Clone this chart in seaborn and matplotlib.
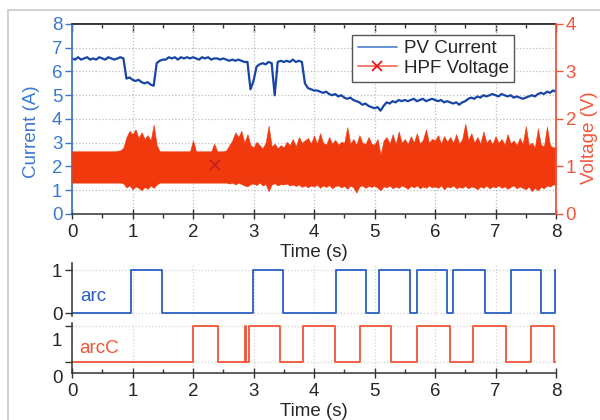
import numpy as np
import matplotlib
matplotlib.use("Agg")
import matplotlib.pyplot as plt
import seaborn as sns
from matplotlib.patches import Rectangle
from matplotlib.lines import Line2D
from matplotlib.ticker import MultipleLocator
from matplotlib.transforms import ScaledTranslation

# sample times (s), one reading every 0.05 s
time_s = np.linspace(0, 8, 161)

# PV current (A)
current_a = [
    6.55, 6.50, 6.60, 6.50, 6.55, 6.60, 6.50, 6.55, 6.50, 6.60,
    6.55, 6.50, 6.60, 6.55, 6.50, 6.55, 6.60, 6.55, 5.70, 5.75,
    5.65, 5.60, 5.65, 5.55, 5.50, 5.55, 5.45, 5.40, 6.35, 6.45,
    6.50, 6.50, 6.60, 6.55, 6.60, 6.50, 6.60, 6.55, 6.60, 6.55,
    6.60, 6.55, 6.50, 6.60, 6.55, 6.60, 6.50, 6.55, 6.55, 6.50,
    6.55, 6.50, 6.45, 6.50, 6.45, 6.50, 6.45, 6.40, 6.40, 5.25,
    5.60, 6.20, 6.30, 6.35, 6.30, 6.40, 6.35, 5.00, 6.40, 6.45,
    6.40, 6.45, 6.40, 6.50, 6.40, 6.45, 6.40, 5.50, 5.30, 5.25,
    5.20, 5.20, 5.15, 5.10, 5.15, 5.05, 5.00, 5.05, 4.95, 5.00,
    4.90, 4.85, 4.90, 4.80, 4.75, 4.70, 4.60, 4.65, 4.55, 4.50,
    4.45, 4.50, 4.35, 4.55, 4.70, 4.65, 4.75, 4.70, 4.80, 4.75,
    4.80, 4.75, 4.80, 4.85, 4.75, 4.80, 4.85, 4.75, 4.80, 4.85,
    4.80, 4.75, 4.80, 4.70, 4.75, 4.70, 4.65, 4.70, 4.60, 4.70,
    4.75, 4.85, 4.90, 4.85, 4.95, 4.90, 5.00, 4.95, 5.00, 5.05,
    5.00, 4.95, 5.05, 5.00, 4.95, 5.00, 4.90, 4.95, 4.90, 4.85,
    4.90, 4.95, 5.00, 4.95, 5.05, 5.10, 5.05, 5.15, 5.10, 5.20,
    5.15,
]

# HPF voltage (V): upper and lower edge of the noise band
hpf_high = [
    1.32, 1.32, 1.32, 1.32, 1.32, 1.32, 1.32, 1.32, 1.32, 1.32,
    1.32, 1.32, 1.32, 1.32, 1.32, 1.33, 1.34, 1.40, 1.62, 1.75,
    1.68, 1.78, 1.60, 1.72, 1.58, 1.66, 1.55, 1.88, 1.45, 1.32,
    1.32, 1.32, 1.32, 1.32, 1.32, 1.32, 1.32, 1.32, 1.32, 1.32,
    1.55, 1.32, 1.32, 1.32, 1.32, 1.32, 1.32, 1.48, 1.32, 1.32,
    1.32, 1.34, 1.45, 1.55, 1.72, 1.62, 1.75, 1.50, 1.68, 1.45,
    1.40, 1.52, 1.45, 1.38, 1.50, 1.86, 1.42, 1.48, 1.38, 1.45,
    1.40, 1.52, 1.45, 1.58, 1.42, 1.62, 1.50, 1.55, 1.60, 1.48,
    1.65, 1.48, 1.70, 1.50, 1.46, 1.62, 1.48, 1.56, 1.46, 1.52,
    1.50, 1.83, 1.48, 1.58, 1.46, 1.66, 1.50, 1.47, 1.62, 1.48,
    1.46, 1.58, 1.25, 1.55, 1.62, 1.48, 1.68, 1.47, 1.74, 1.50,
    1.58, 1.47, 1.64, 1.50, 1.70, 1.48, 1.56, 1.78, 1.50, 1.58,
    1.55, 1.66, 1.48, 1.64, 1.52, 1.62, 1.50, 1.68, 1.48, 1.58,
    1.90, 1.55, 1.70, 1.50, 1.62, 1.48, 1.74, 1.50, 1.58, 1.47,
    1.64, 1.50, 1.58, 1.46, 1.68, 1.48, 1.55, 1.45, 1.60, 1.47,
    1.85, 1.45, 1.50, 1.40, 1.80, 1.46, 1.42, 1.84, 1.45, 1.40,
    1.42,
]
hpf_low = [
    0.66, 0.66, 0.66, 0.66, 0.66, 0.66, 0.66, 0.66, 0.66, 0.66,
    0.66, 0.66, 0.66, 0.66, 0.66, 0.66, 0.66, 0.64, 0.56, 0.60,
    0.52, 0.58, 0.55, 0.50, 0.57, 0.53, 0.60, 0.55, 0.62, 0.66,
    0.66, 0.66, 0.66, 0.66, 0.66, 0.66, 0.66, 0.66, 0.66, 0.66,
    0.66, 0.66, 0.66, 0.66, 0.66, 0.66, 0.66, 0.66, 0.66, 0.66,
    0.66, 0.66, 0.64, 0.66, 0.62, 0.66, 0.63, 0.60, 0.58, 0.63,
    0.64, 0.61, 0.66, 0.60, 0.63, 0.48, 0.62, 0.65, 0.60, 0.63,
    0.62, 0.64, 0.60, 0.62, 0.59, 0.62, 0.57, 0.60, 0.56, 0.60,
    0.58, 0.62, 0.55, 0.60, 0.57, 0.61, 0.54, 0.59, 0.60, 0.56,
    0.59, 0.53, 0.60, 0.56, 0.45, 0.58, 0.60, 0.55, 0.59, 0.57,
    0.60, 0.55, 0.50, 0.58, 0.56, 0.60, 0.54, 0.58, 0.55, 0.60,
    0.57, 0.53, 0.59, 0.56, 0.60, 0.54, 0.58, 0.55, 0.60, 0.56,
    0.58, 0.55, 0.60, 0.52, 0.58, 0.56, 0.60, 0.54, 0.57, 0.55,
    0.59, 0.54, 0.58, 0.56, 0.52, 0.58, 0.55, 0.60, 0.54, 0.58,
    0.56, 0.60, 0.55, 0.58, 0.53, 0.57, 0.60, 0.54, 0.58, 0.55,
    0.52, 0.58, 0.48, 0.55, 0.50, 0.57, 0.54, 0.60, 0.58, 0.62,
    0.62,
]
# the single "x" marker drawn on the voltage trace
hpf_mark_t = [2.36]
hpf_mark_v = [1.04]

# arc detector outputs: switching times (s) and levels
arc_t = [0, 0.98, 1.49, 2.99, 3.48, 4.36, 4.86, 5.08, 5.59, 5.70, 6.19,
         6.30, 6.82, 7.25, 7.76, 7.98, 8.0]
arc_v = [0, 1, 0, 1, 0, 1, 0, 1, 0, 1, 0, 1, 0, 1, 0, 1, 1]
arcc_t = [0, 2.00, 2.42, 2.86, 2.88, 2.92, 3.43, 3.82, 4.35, 4.76, 5.28,
          5.70, 6.24, 6.62, 7.17, 7.58, 7.96, 8.0]
arcc_v = [0, 1, 0, 1, 0, 1, 0, 1, 0, 1, 0, 1, 0, 1, 0, 1, 0, 0]

CUR = "#1745a6"
BLUE_AX = "#3a78d4"
HPF = "#f03a0e"
RED_AX = "#f4553a"
ARC = "#2a5fc4"
ARCC = "#f25535"
GRID = "#bdbdbd"
FS = 13.5

sns.set_theme(style="white")
plt.rcParams['font.family'] = ['Liberation Sans', 'DejaVu Sans']
plt.rcParams['font.size'] = FS
plt.rcParams['axes.labelsize'] = FS
plt.rcParams['xtick.labelsize'] = FS
plt.rcParams['ytick.labelsize'] = FS
plt.rcParams['legend.fontsize'] = FS

fig = plt.figure(figsize=(6, 4.2), dpi=100)
fig.add_artist(Rectangle((8 / 600, -0.1), 1.2, 1 - 10 / 420 + 0.1,
                         transform=fig.transFigure, fill=False,
                         ec="#c8c8c8", lw=1.2))

# ---- top panel: PV current and HPF voltage ----
ax = fig.add_axes([0.12, 0.4905, 0.8067, 0.4524])
ax2 = ax.twinx()

sns.lineplot(x=time_s, y=current_a, ax=ax, color=CUR, lw=1.6)
ax2.fill_between(time_s, hpf_low, hpf_high, color=HPF, lw=0.4)
ax2.plot(hpf_mark_t, hpf_mark_v, 'x', color="#c81e1e", ms=7, mew=1.2)

ax.set_xlim(0, 8)
ax.set_ylim(0, 8)
ax2.set_ylim(0, 4)
ax.xaxis.set_major_locator(MultipleLocator(1))
ax.xaxis.set_minor_locator(MultipleLocator(0.5))
ax.yaxis.set_major_locator(MultipleLocator(1))
ax2.yaxis.set_major_locator(MultipleLocator(1))
ax.grid(True, which='major', ls=':', color=GRID, lw=0.9)

for s in ['top', 'bottom']:
    ax.spines[s].set_color('#333333')
    ax.spines[s].set_linewidth(1.1)
ax.spines['left'].set_color(BLUE_AX)
ax.spines['left'].set_linewidth(1.3)
ax.spines['right'].set_visible(False)
for s in ['left', 'top', 'bottom']:
    ax2.spines[s].set_visible(False)
ax2.spines['right'].set_color(RED_AX)
ax2.spines['right'].set_linewidth(1.3)

ax.tick_params(axis='y', which='major', direction='out', length=5, width=1,
               color=BLUE_AX, labelcolor=BLUE_AX, left=True, pad=2)
ax.tick_params(axis='x', which='major', direction='inout', length=7, width=1,
               color='#333333', bottom=True, pad=4)
ax.tick_params(axis='x', which='minor', direction='out', length=3, width=1,
               color='#333333', bottom=True)
top = ax.secondary_xaxis('top')
top.xaxis.set_major_locator(MultipleLocator(1))
top.xaxis.set_minor_locator(MultipleLocator(0.5))
top.tick_params(axis='x', which='both', direction='in', labeltop=False,
                color='#333333', width=1)
top.tick_params(axis='x', which='major', length=6)
top.tick_params(axis='x', which='minor', length=3)
ax2.tick_params(axis='y', direction='out', length=5, width=1, right=True,
                color=RED_AX, labelcolor=RED_AX, pad=2)

ax.set_xlabel('Time (s)', labelpad=2)
ax.set_ylabel('Current (A)', color=BLUE_AX)
ax.yaxis.set_label_coords(-0.066, 0.434)
ax2.set_ylabel('Voltage (V)', color=RED_AX)
ax2.yaxis.set_label_coords(1.052, 0.40)

handles = [Line2D([], [], color="#4a7fd0", lw=1.2),
           Line2D([], [], color="#f26552", lw=1.2, marker='x', ms=7,
                  mec="#e01818", mew=1.3)]
leg = ax2.legend(handles, ['PV Current', 'HPF Voltage'], loc='upper right',
                 bbox_to_anchor=(0.913, 0.942), borderaxespad=0,
                 frameon=True, fancybox=False, edgecolor='#555555',
                 framealpha=1, handlelength=2.1, handletextpad=0.35,
                 labelspacing=0.12, borderpad=0.28)
leg.get_frame().set_linewidth(1.0)

# ---- bottom panels: arc and arcC flags ----
axa = fig.add_axes([0.12, 0.2476, 0.8067, 0.126])
axc = fig.add_axes([0.12, 0.1119, 0.8067, 0.119])

sns.lineplot(x=arc_t, y=arc_v, ax=axa, color=ARC, lw=1.3,
             drawstyle='steps-post')
sns.lineplot(x=arcc_t, y=arcc_v, ax=axc, color=ARCC, lw=1.3,
             drawstyle='steps-post')

for a, lo, hi in [(axa, -0.06, 1.16), (axc, -0.29, 1.07)]:
    a.set_xlim(0, 8)
    a.set_ylim(lo, hi)
    a.set_yticks([0, 1])
    a.xaxis.set_major_locator(MultipleLocator(1))
    a.xaxis.set_minor_locator(MultipleLocator(0.5))
    a.grid(True, which='major', ls=':', color="#d4d4d4", lw=0.9)
    for s in ['top', 'right']:
        a.spines[s].set_visible(False)
    a.spines['left'].set_color('#333333')
    a.spines['left'].set_linewidth(1.1)
    a.tick_params(axis='y', direction='out', length=5, width=1,
                  color='#333333', left=True, pad=2)
    a.set_ylabel('')
    a.set_xlabel('')

axa.spines['bottom'].set_visible(False)
axa.tick_params(axis='x', which='both', bottom=False, labelbottom=False)
axc.spines['bottom'].set_color('#333333')
axc.spines['bottom'].set_linewidth(1.1)
axc.tick_params(axis='x', which='major', direction='inout', length=7, width=1,
                color='#333333', bottom=True, pad=4)
axc.tick_params(axis='x', which='minor', direction='in', length=3, width=1,
                color='#333333', bottom=True)
shift = ScaledTranslation(0, -10 / 72, fig.dpi_scale_trans)
for lab in axc.get_yticklabels():
    lab.set_transform(lab.get_transform() + shift)

axa.text(0.13, 0.38, 'arc', color=ARC, fontsize=FS, va='center')
axc.text(0.12, 0.38, 'arcC', color=ARCC, fontsize=FS, va='center')
axc.set_xlabel('Time (s)', labelpad=2)

fig.savefig('out.png', dpi=100)
